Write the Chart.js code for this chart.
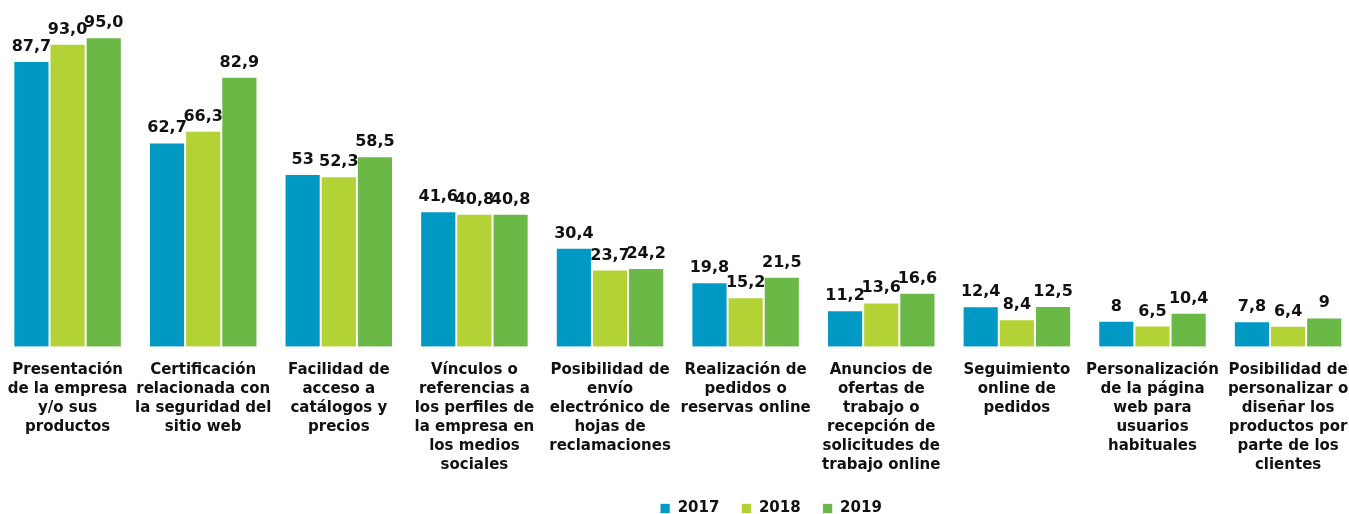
<!DOCTYPE html>
<html>
<head>
<meta charset="utf-8">
<script src="https://cdn.jsdelivr.net/npm/chart.js@4"></script>
<style>
  html, body { margin:0; padding:0; background:#fff; overflow:hidden; }
  #wrap { position:absolute; left:-6px; top:0; width:1368px; height:514px; }
</style>
</head>
<body>
<div id="wrap"><canvas id="chart"></canvas></div>
<script>
// categories (one line per array entry, as in the picture)
const categories = [
  ['Presentación', 'de la empresa', 'y/o sus', 'productos'],
  ['Certificación', 'relacionada con', 'la seguridad del', 'sitio web'],
  ['Facilidad de', 'acceso a', 'catálogos y', 'precios'],
  ['Vínculos o', 'referencias a', 'los perfiles de', 'la empresa en', 'los medios', 'sociales'],
  ['Posibilidad de', 'envío', 'electrónico de', 'hojas de', 'reclamaciones'],
  ['Realización de', 'pedidos o', 'reservas online'],
  ['Anuncios de', 'ofertas de', 'trabajo o', 'recepción de', 'solicitudes de', 'trabajo online'],
  ['Seguimiento', 'online de', 'pedidos'],
  ['Personalización', 'de la página', 'web para', 'usuarios', 'habituales'],
  ['Posibilidad de', 'personalizar o', 'diseñar los', 'productos por', 'parte de los', 'clientes']
];

const years = ['2017', '2018', '2019'];

const values2017 = [87.7, 62.7, 53, 41.6, 30.4, 19.8, 11.2, 12.4, 8, 7.8];
const values2018 = [93.0, 66.3, 52.3, 40.8, 23.7, 15.2, 13.6, 8.4, 6.5, 6.4];
const values2019 = [95.0, 82.9, 58.5, 40.8, 24.2, 21.5, 16.6, 12.5, 10.4, 9];

// value labels as printed on the chart
const labels2017 = ['87,7', '62,7', '53', '41,6', '30,4', '19,8', '11,2', '12,4', '8', '7,8'];
const labels2018 = ['93,0', '66,3', '52,3', '40,8', '23,7', '15,2', '13,6', '8,4', '6,5', '6,4'];
const labels2019 = ['95,0', '82,9', '58,5', '40,8', '24,2', '21,5', '16,6', '12,5', '10,4', '9'];

const colors = ['#0099c4', '#b3d236', '#6ab845'];
const FONT = "'DejaVu Sans', Verdana, sans-serif";

const valueLabels = {
  id: 'valueLabels',
  afterDatasetsDraw(chart) {
    const ctx = chart.ctx;
    const texts = [labels2017, labels2018, labels2019];
    ctx.save();
    ctx.font = 'bold 16px ' + FONT;
    ctx.fillStyle = '#111';
    ctx.textAlign = 'center';
    ctx.textBaseline = 'alphabetic';
    chart.data.datasets.forEach((ds, di) => {
      chart.getDatasetMeta(di).data.forEach((bar, i) => {
        ctx.fillText(texts[di][i], bar.x, bar.y - 10);
      });
    });
    ctx.restore();
  }
};

// legend sits right of centre in the original, close under the labels
const legendShift = {
  id: 'legendShift',
  afterLayout(chart) {
    const lg = chart.legend;
    if (!lg) return;
    lg.left += 93;
    lg.right += 93;
    lg.top -= 10;
    lg.bottom = lg.top + 60;
  }
};

new Chart(document.getElementById('chart'), {
  type: 'bar',
  data: {
    labels: categories,
    datasets: [
      { label: years[0], data: values2017, backgroundColor: colors[0] },
      { label: years[1], data: values2018, backgroundColor: colors[1] },
      { label: years[2], data: values2019, backgroundColor: colors[2] }
    ].map(d => Object.assign(d, {
      borderColor: 'rgba(255,255,255,0.7)',
      borderWidth: 1,
      categoryPercentage: 0.8,
      barPercentage: 1.0
    }))
  },
  options: {
    responsive: true,
    maintainAspectRatio: false,
    animation: false,
    layout: { padding: { top: 21, left: 0, right: 0, bottom: 0 } },
    scales: {
      x: {
        grid: { display: false, drawTicks: false },
        border: { display: false },
        ticks: {
          autoSkip: false,
          maxRotation: 0,
          padding: 14,
          color: '#111',
          font: { family: FONT, size: 15, weight: 'bold', lineHeight: 1.27 }
        }
      },
      y: {
        display: false,
        min: 0,
        max: 100
      }
    },
    plugins: {
      legend: {
        position: 'bottom',
        maxHeight: 25,
        labels: {
          boxWidth: 10,
          boxHeight: 10,
          padding: 22,
          color: '#111',
          font: { family: FONT, size: 15, weight: 'bold' }
        }
      },
      tooltip: { enabled: false }
    }
  },
  plugins: [valueLabels, legendShift]
});
</script>
</body>
</html>
